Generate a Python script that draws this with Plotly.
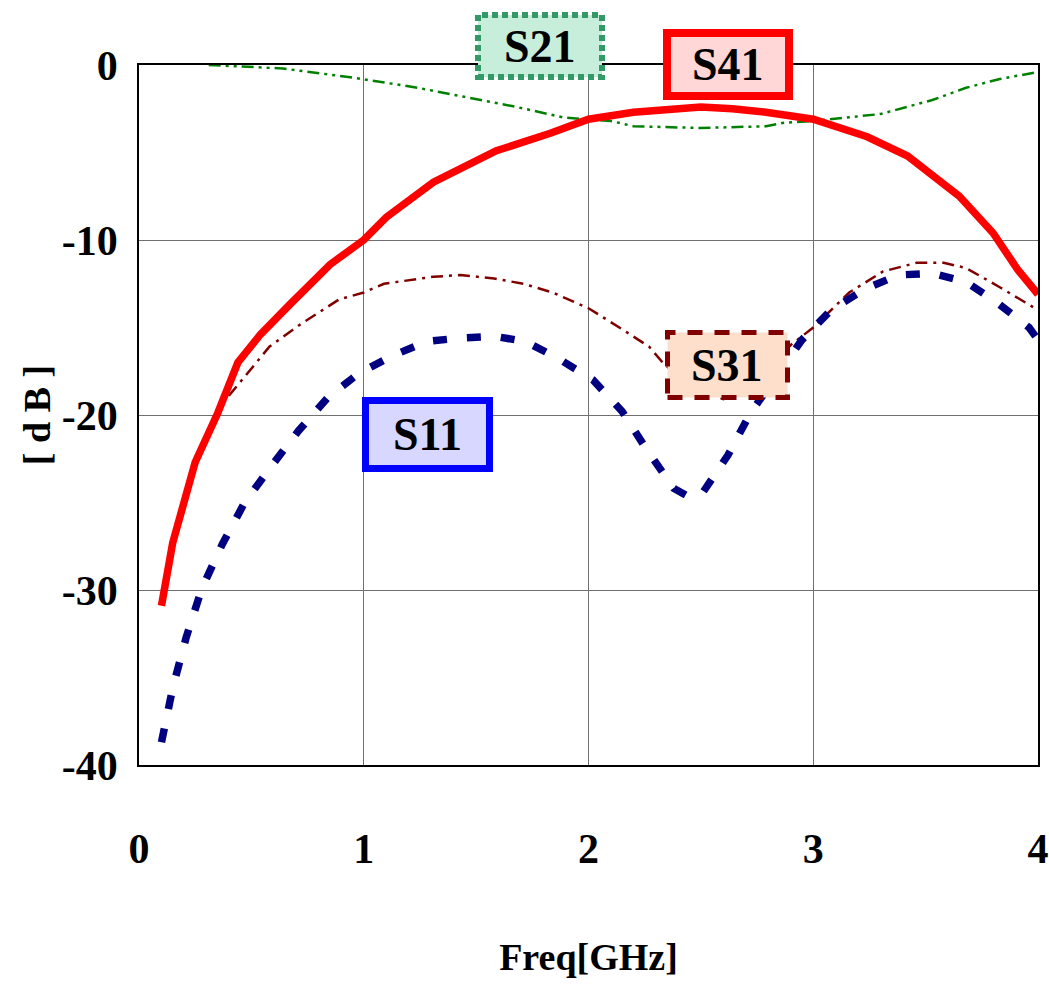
import plotly.graph_objects as go

# ---- data ----
f_s41 = [0.10, 0.15, 0.25, 0.35, 0.44, 0.54, 0.67, 0.85, 1.00, 1.10, 1.31, 1.59, 1.83, 2.00, 2.20, 2.35,
         2.50, 2.64, 2.79, 3.00, 3.24, 3.42, 3.65, 3.80, 3.91, 4.00]
s41 = [-30.9, -27.3, -22.7, -19.9, -17.0, -15.4, -13.7, -11.4, -10.0, -8.7, -6.7, -4.9, -3.9, -3.1, -2.7, -2.5,
       -2.4, -2.5, -2.7, -3.1, -4.1, -5.2, -7.5, -9.6, -11.7, -13.1]

f_s21 = [0.31, 0.64, 0.94, 1.24, 1.44, 1.68, 1.89, 2.10, 2.20, 2.45, 2.50, 2.79, 2.87, 3.00, 3.30, 3.53,
         3.68, 3.83, 4.00]
s21 = [0.0, -0.2, -0.7, -1.3, -1.8, -2.4, -3.0, -3.2, -3.5, -3.6, -3.6, -3.5, -3.3, -3.2, -2.8, -2.0,
       -1.3, -0.8, -0.4]

f_s31 = [0.40, 0.47, 0.58, 0.72, 0.89, 1.00, 1.09, 1.31, 1.43, 1.58, 1.71, 1.84, 2.00, 2.15, 2.27, 2.33,
         2.40, 2.50, 2.60, 2.70, 2.80, 2.90, 3.00, 3.16, 3.31, 3.46, 3.58, 3.68, 3.83, 3.95, 4.00]
s31 = [-18.9, -17.8, -16.1, -14.8, -13.4, -13.0, -12.5, -12.1, -12.0, -12.2, -12.5, -13.0, -13.9, -15.1, -16.1, -17.0,
       -17.8, -18.6, -19.1, -18.6, -17.3, -16.0, -15.0, -13.0, -11.8, -11.3, -11.3, -11.6, -12.7, -13.6, -14.0]

f_s11 = [0.10, 0.15, 0.21, 0.28, 0.37, 0.47, 0.59, 0.71, 0.84, 0.98, 1.13, 1.28, 1.43, 1.58, 1.72, 1.87,
         2.02, 2.15, 2.26, 2.38, 2.45, 2.51, 2.62, 2.72, 2.95, 3.08, 3.23, 3.38, 3.53, 3.68, 3.82, 3.96, 4.00]
s11 = [-38.7, -35.6, -32.7, -29.9, -27.4, -25.0, -22.9, -20.9, -19.0, -17.6, -16.6, -15.8, -15.6, -15.5, -15.8, -16.8,
       -18.0, -19.8, -22.0, -24.2, -24.7, -24.4, -22.3, -19.9, -15.7, -14.0, -12.8, -12.0, -11.9, -12.4, -13.6, -15.0, -15.7]

x_ticks = [0, 1, 2, 3, 4]
x_ticktext = ["0", "1", "2", "3", "4"]
y_ticks = [0, -10, -20, -30, -40]
y_ticktext = ["0", "-10", "-20", "-30", "-40"]

labels = ["S21", "S41", "S31", "S11"]

FONT = "Liberation Serif, Times New Roman, serif"

fig = go.Figure()
fig.add_trace(go.Scatter(x=f_s21, y=s21, mode="lines", name="S21",
                         line=dict(color="#008000", width=2.5, dash="12px,5px,3px,5px,3px,5px")))
fig.add_trace(go.Scatter(x=f_s31, y=s31, mode="lines", name="S31",
                         line=dict(color="#800000", width=2.5, dash="12px,6px,3px,6px")))
fig.add_trace(go.Scatter(x=f_s11, y=s11, mode="lines", name="S11",
                         line=dict(color="#000080", width=7.5, dash="14px,20px")))
fig.add_trace(go.Scatter(x=f_s41, y=s41, mode="lines", name="S41",
                         line=dict(color="#ff0000", width=7.5)))

# plot area in pixels: left 139, right 1038, top 65, bottom 765
L, R, T, B = 139, 1038, 65, 765
def px(x):
    return (x - L) / (R - L)
def py(y):
    return (B - y) / (B - T)

boxes = [
    # label, x0, x1, y0, y1 (pixel centre-lines of border), border colour, width, dash, fill, text centre
    ("S21", 478, 602, 15, 77, "#339966", 6, "6px,4px", "#c6eedb", 540, 46),
    ("S41", 667, 789, 33, 96, "#ff0000", 8, "solid", "#ffd7d7", 728, 64),
    ("S31", 667.5, 787.5, 332.5, 397.5, "#800000", 5, "15px,12px", "#fddfcc", 727, 365),
    ("S11", 365.5, 489.5, 400.5, 468.5, "#0000ff", 7, "solid", "#d7d7ff", 427, 434),
]
for lab, x0, x1, y0, y1, col, w, dash, fill, tx, ty in boxes:
    fig.add_shape(type="rect", xref="paper", yref="paper",
                  x0=px(x0), x1=px(x1), y0=py(y1), y1=py(y0),
                  line=dict(color=col, width=w, dash=dash), fillcolor=fill, layer="above")
    fig.add_annotation(xref="paper", yref="paper", x=px(tx), y=py(ty), text="<b>%s</b>" % lab,
                       showarrow=False, xanchor="center", yanchor="middle",
                       font=dict(family=FONT, size=46, color="black"))

fig.update_layout(
    width=1049, height=988,
    margin=dict(l=L, r=1049 - R, t=T, b=988 - B, autoexpand=False),
    paper_bgcolor="white", plot_bgcolor="white",
    showlegend=False,
    font=dict(family=FONT, color="black"),
)
fig.update_xaxes(range=[0, 4], tickvals=x_ticks, ticktext=x_ticktext, automargin=False,
                 showgrid=True, gridcolor="#707070", gridwidth=1, zeroline=False,
                 showline=True, linecolor="black", linewidth=1.5, mirror=True,
                 ticks="", ticklabelstandoff=46,
                 tickfont=dict(family=FONT, size=42, color="black", weight="bold"),
                 title=dict(text="<b>Freq[GHz]</b>", standoff=72,
                            font=dict(family=FONT, size=38, color="black")))
fig.update_yaxes(range=[-40, 0], tickvals=y_ticks, ticktext=y_ticktext, automargin=False,
                 showgrid=True, gridcolor="#707070", gridwidth=1, zeroline=False,
                 showline=True, linecolor="black", linewidth=1.5, mirror=True,
                 ticks="", ticklabelstandoff=11,
                 tickfont=dict(family=FONT, size=42, color="black", weight="bold"),
                 title=dict(text="<b>[ d B ]</b>", standoff=0,
                            font=dict(family=FONT, size=38, color="black")))

fig.write_html("out.html", config={"displayModeBar": False},
               post_script="document.body.style.margin='0';document.body.style.padding='0';"
                           "document.body.style.overflow='hidden';")
